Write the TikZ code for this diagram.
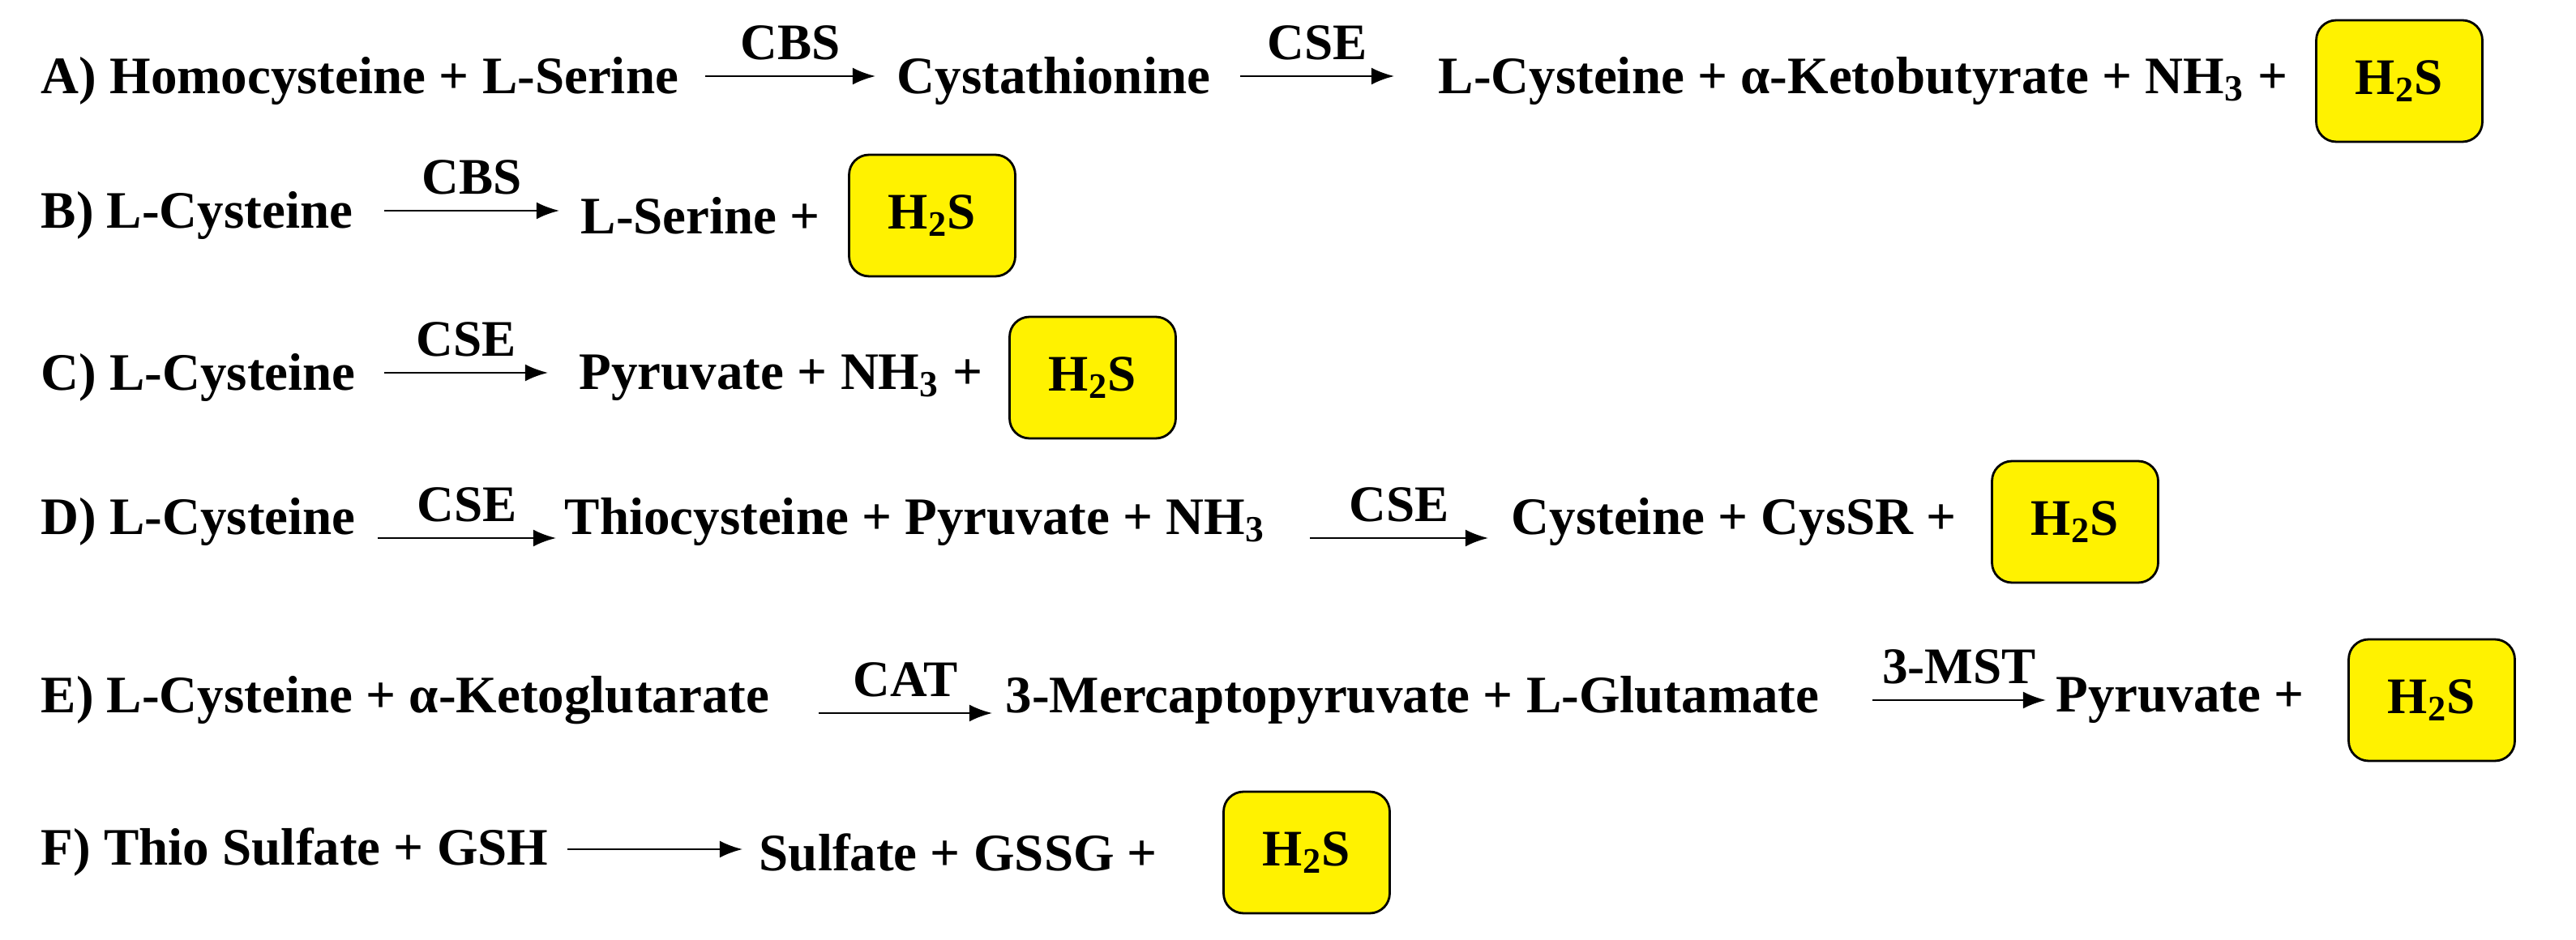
\documentclass[tikz,border=0pt]{standalone}
\usepackage{fontspec}
\setmainfont{Liberation Serif}
\usetikzlibrary{arrows.meta}
\begin{document}
\begin{tikzpicture}[x=0.02cm,y=-0.02cm,
  txt/.style={anchor=west,inner sep=0pt,font=\fontsize{18.5}{21}\selectfont\bfseries},
  hs/.style={draw,thick,fill=yellow,rounded corners=7pt,minimum width=2.05cm,minimum height=1.5cm,font=\fontsize{18}{21}\selectfont\bfseries},
  rx/.style={-{Latex[length=8pt]},thick},
  enz/.style={above=2pt,font=\fontsize{18}{21}\selectfont\bfseries}]
\useasboundingbox (0,0) rectangle (1589,580);
% A
\node[txt] (a1) at (25,50) {A) Homocysteine + L-Serine};
\node[txt] (a2) at (553,50) {Cystathionine};
\node[txt] (a3) at (887,50) {L-Cysteine + α-Ketobutyrate + NH\textsubscript{3} +};
\node[hs] (ha) at (1480,50) {H\textsubscript{2}S};
\coordinate (a1s) at (435,47); \coordinate (a1e) at (540,47);
\coordinate (a2s) at (765,47); \coordinate (a2e) at (860,47);
\draw[rx] (a1s) -- node[enz] {CBS} (a1e);
\draw[rx] (a2s) -- node[enz] {CSE} (a2e);
% B
\node[txt] (b1) at (25,133) {B) L-Cysteine};
\node[txt] (b2) at (358,133) {L-Serine +};
\node[hs] (hb) at (575,133) {H\textsubscript{2}S};
\coordinate (b1s) at (237,130); \coordinate (b1e) at (345,130);
\draw[rx] (b1s) -- node[enz] {CBS} (b1e);
% C
\node[txt] (c1) at (25,233) {C) L-Cysteine};
\node[txt] (c2) at (357,233) {Pyruvate + NH\textsubscript{3} +};
\node[hs] (hc) at (674,233) {H\textsubscript{2}S};
\coordinate (c1s) at (237,230); \coordinate (c1e) at (338,230);
\draw[rx] (c1s) -- node[enz] {CSE} (c1e);
% D
\node[txt] (d1) at (25,322) {D) L-Cysteine};
\node[txt] (d2) at (348,322) {Thiocysteine + Pyruvate + NH\textsubscript{3}};
\node[txt] (d3) at (932,322) {Cysteine + CysSR +};
\node[hs] (hd) at (1280,322) {H\textsubscript{2}S};
\coordinate (d1s) at (233,332); \coordinate (d1e) at (343,332);
\coordinate (d2s) at (808,332); \coordinate (d2e) at (918,332);
\draw[rx] (d1s) -- node[enz] {CSE} (d1e);
\draw[rx] (d2s) -- node[enz] {CSE} (d2e);
% E
\node[txt] (e1) at (25,432) {E) L-Cysteine + α-Ketoglutarate};
\node[txt] (e2) at (620,432) {3-Mercaptopyruvate + L-Glutamate};
\node[txt] (e3) at (1268,432) {Pyruvate +};
\node[hs] (he) at (1500,432) {H\textsubscript{2}S};
\coordinate (e1s) at (505,440); \coordinate (e1e) at (612,440);
\coordinate (e2s) at (1155,432); \coordinate (e2e) at (1262,432);
\draw[rx] (e1s) -- node[enz] {CAT} (e1e);
\draw[rx] (e2s) -- node[enz] {3-MST} (e2e);
% F
\node[txt] (f1) at (25,526) {F) Thio Sulfate + GSH};
\node[txt] (f2) at (468,526) {Sulfate + GSSG +};
\node[hs] (hf) at (806,526) {H\textsubscript{2}S};
\coordinate (f1s) at (350,524); \coordinate (f1e) at (458,524);
\draw[rx] (f1s) -- (f1e);
\end{tikzpicture}
\end{document}
